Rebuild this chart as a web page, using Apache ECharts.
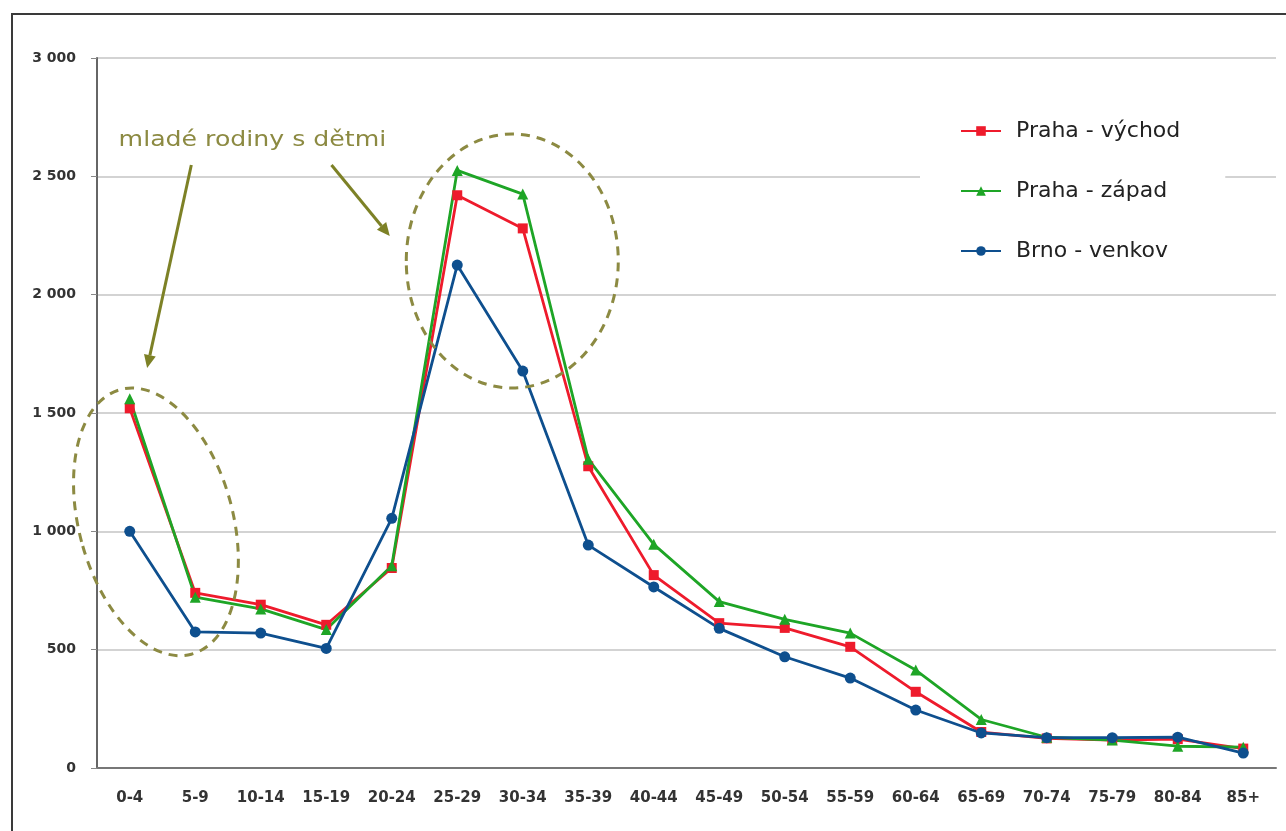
<!DOCTYPE html>
<html>
<head>
<meta charset="utf-8">
<script src="https://cdn.jsdelivr.net/npm/echarts@6/dist/echarts.min.js"></script>
<style>
  html, body { margin: 0; padding: 0; background: #fff; }
  #chart { width: 1286px; height: 831px; }
</style>
</head>
<body>
<div id="chart"></div>
<script>
// Age groups (5-year bands)
const categories = ['0-4','5-9','10-14','15-19','20-24','25-29','30-34','35-39','40-44',
  '45-49','50-54','55-59','60-64','65-69','70-74','75-79','80-84','85+'];

// Number of in-migrants by age group, per district
const prahaVychod = [1520, 740, 690, 605, 845, 2420, 2280, 1275, 815, 612, 592, 512, 322, 152, 125, 118, 122, 82];
const prahaZapad  = [1560, 722, 672, 585, 855, 2525, 2425, 1305, 945, 703, 628, 570, 414, 205, 130, 118, 92, 88];
const brnoVenkov  = [1000, 575, 570, 505, 1055, 2125, 1677, 942, 765, 590, 470, 380, 245, 148, 128, 128, 130, 63];

const seriesNames = ['Praha - východ', 'Praha - západ', 'Brno - venkov'];
const annotationText = 'mladé rodiny s dětmi';

const olive = '#8c8a42';
const font = 'DejaVu Sans, Verdana, sans-serif';

const chart = echarts.init(document.getElementById('chart'), null, { renderer: 'canvas' });

function fmt(v) {
  return String(v).replace(/\B(?=(\d{3})+(?!\d))/g, ' ');
}

const option = {
  animation: false,
  backgroundColor: '#fff',
  grid: { left: 97, right: 10, top: 58, bottom: 63, containLabel: false },
  legend: {
    orient: 'vertical',
    left: 920,
    top: 114,
    itemGap: 38,
    itemWidth: 40,
    itemHeight: 12,
    backgroundColor: '#fff',
    padding: [6, 45, 6, 40],
    textStyle: { fontSize: 22, color: '#222', fontFamily: font, padding: [0, 0, 0, 10] },
    data: seriesNames
  },
  xAxis: {
    type: 'category',
    data: categories,
    boundaryGap: true,
    axisLine: { lineStyle: { color: '#777', width: 2 } },
    axisTick: { alignWithLabel: true, length: 4, lineStyle: { color: '#888' } },
    axisLabel: { margin: 23, fontSize: 15, fontWeight: 'bold', color: '#333', fontFamily: font }
  },
  yAxis: {
    type: 'value',
    min: 0,
    max: 3000,
    interval: 500,
    axisLine: { show: true, lineStyle: { color: '#666', width: 2 } },
    axisTick: { show: true, length: 6, lineStyle: { color: '#888' } },
    splitLine: { lineStyle: { color: '#c4c4c4', width: 1.5 } },
    axisLabel: { margin: 21, fontSize: 14, fontWeight: 'bold', color: '#333', fontFamily: font, formatter: fmt }
  },
  series: [
    {
      name: seriesNames[0], type: 'line', data: prahaVychod,
      symbol: 'rect', symbolSize: 10,
      lineStyle: { color: '#ee1b2c', width: 2.8 },
      itemStyle: { color: '#ee1b2c' }
    },
    {
      name: seriesNames[1], type: 'line', data: prahaZapad,
      symbol: 'triangle', symbolSize: 11,
      lineStyle: { color: '#1ea526', width: 2.8 },
      itemStyle: { color: '#1ea526' }
    },
    {
      name: seriesNames[2], type: 'line', data: brnoVenkov,
      symbol: 'circle', symbolSize: 11,
      lineStyle: { color: '#0e4f8e', width: 2.8 },
      itemStyle: { color: '#0e4f8e' }
    }
  ]
};

chart.setOption(option);

// Pixel position for a (fractional) category index and a value
function px(ci, v) {
  const a = chart.convertToPixel({ gridIndex: 0 }, [0, v]);
  const b = chart.convertToPixel({ gridIndex: 0 }, [1, v]);
  const step = b[0] - a[0];
  return [a[0] + step * ci, a[1]];
}

function arrow(from, to, id) {
  const p0 = px(from[0], from[1]);
  const p1 = px(to[0], to[1]);
  const dx = p1[0] - p0[0], dy = p1[1] - p0[1];
  const len = Math.sqrt(dx * dx + dy * dy);
  const ux = dx / len, uy = dy / len;
  const head = 13, half = 6;
  const base = [p1[0] - ux * head, p1[1] - uy * head];
  return [
    { type: 'line', id: id + 'l', z: 20, shape: { x1: p0[0], y1: p0[1], x2: base[0], y2: base[1] },
      style: { stroke: '#7d8126', lineWidth: 3 } },
    { type: 'polygon', id: id + 'h', z: 20,
      shape: { points: [p1, [base[0] - uy * half, base[1] + ux * half], [base[0] + uy * half, base[1] - ux * half]] },
      style: { fill: '#7d8126' } }
  ];
}

const e1 = px(0.40, 1040);
const e2 = px(5.84, 2142);
const t = px(-0.17, 2652);

chart.setOption({
  graphic: [
    { type: 'rect', id: 'frame', z: 30, silent: true,
      shape: { x: 12, y: 14, width: 1400, height: 1000 },
      style: { fill: 'none', stroke: '#3a3a3a', lineWidth: 2 } },
    { type: 'ellipse', id: 'ell1', z: 15, x: e1[0], y: e1[1], rotation: 15 * Math.PI / 180,
      shape: { cx: 0, cy: 0, rx: 77, ry: 137 },
      style: { fill: 'none', stroke: olive, lineWidth: 3, lineDash: [9, 7] } },
    { type: 'ellipse', id: 'ell2', z: 15, x: e2[0], y: e2[1],
      shape: { cx: 0, cy: 0, rx: 106, ry: 127 },
      style: { fill: 'none', stroke: olive, lineWidth: 3, lineDash: [9, 7] } },
    { type: 'text', id: 'note', z: 20, x: t[0], y: t[1], scaleX: 1.2,
      style: { text: annotationText, fill: olive, fontSize: 21, fontFamily: font,
        verticalAlign: 'middle' } }
  ].concat(arrow([0.94, 2548], [0.265, 1690], 'a1'), arrow([3.08, 2548], [3.97, 2248], 'a2'))
});
</script>
</body>
</html>
